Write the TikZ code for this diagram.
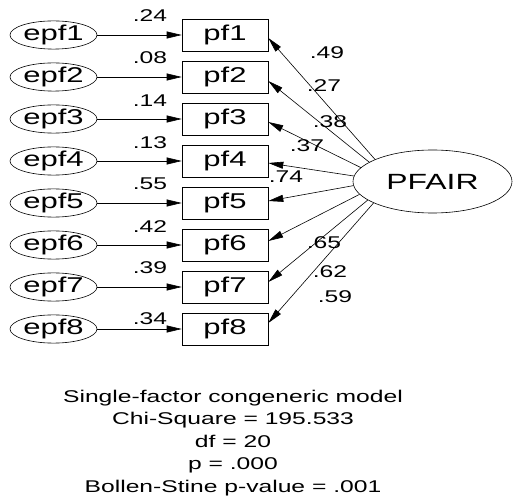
\documentclass[tikz,border=0pt]{standalone}
\usepackage{fontspec}
\setmainfont{Liberation Sans}
\newfontfamily\amos[FakeStretch=1.45]{Liberation Sans}
\usetikzlibrary{arrows.meta,shapes.geometric}
\begin{document}
\begin{tikzpicture}[x=1pt,y=-1pt,
  errvar/.style={draw, ellipse, line width=0.6pt, minimum width=87pt, minimum height=22pt,
    inner sep=0pt, font=\amos\fontsize{21.4}{24}\selectfont},
  obsbox/.style={draw, rectangle, line width=0.6pt, minimum width=86pt, minimum height=32pt,
    inner sep=0pt, font=\amos\fontsize{21.4}{24}\selectfont},
  latent/.style={draw, ellipse, line width=0.6pt, minimum width=159pt, minimum height=63pt,
    inner sep=0pt, font=\amos\fontsize{22}{24}\selectfont},
  regpath/.style={-{Triangle[length=15pt,width=7pt]}, line width=0.6pt},
  coef/.style={inner sep=0pt, font=\amos\fontsize{17}{18}\selectfont},
  fitstat/.style={inner sep=0pt, align=center, font=\amos\fontsize{17}{22.5}\selectfont},
]
\useasboundingbox (0,0) rectangle (514,502);

% latent factor
\node[latent] (F) at (432.5,181.5) {PFAIR};

% error terms and observed indicators
\node[errvar] (e1) at (53.5,35)  {epf1};
\node[errvar] (e2) at (53.5,77)  {epf2};
\node[errvar] (e3) at (53.5,119) {epf3};
\node[errvar] (e4) at (53.5,161) {epf4};
\node[errvar] (e5) at (53.5,203) {epf5};
\node[errvar] (e6) at (53.5,245) {epf6};
\node[errvar] (e7) at (53.5,287) {epf7};
\node[errvar] (e8) at (53.5,329) {epf8};

\node[obsbox] (p1) at (225,35)  {pf1};
\node[obsbox] (p2) at (225,77)  {pf2};
\node[obsbox] (p3) at (225,119) {pf3};
\node[obsbox] (p4) at (225,161) {pf4};
\node[obsbox] (p5) at (225,203) {pf5};
\node[obsbox] (p6) at (225,245) {pf6};
\node[obsbox] (p7) at (225,287) {pf7};
\node[obsbox] (p8) at (225,329) {pf8};

% error paths
\foreach \i in {1,...,8} \draw[regpath] (e\i) -- (p\i);

% squared multiple correlations
\node[coef] (r1) at (150,16)  {.24};
\node[coef] (r2) at (150,58)  {.08};
\node[coef] (r3) at (150,101) {.14};
\node[coef] (r4) at (150,143) {.13};
\node[coef] (r5) at (150,184) {.55};
\node[coef] (r6) at (150,227) {.42};
\node[coef] (r7) at (150,268) {.39};
\node[coef] (r8) at (150,319) {.34};

% factor loadings
\draw[regpath] (F.159.5) -- ([yshift=-3pt]p1.east);
\draw[regpath] (F.163.5) -- ([yshift=-4pt]p2.east);
\draw[regpath] (F.169.7) -- ([yshift=-3pt]p3.east);
\draw[regpath] (F.176.7) -- ([yshift=-2pt]p4.east);
\draw[regpath] (F.183.3) -- ([yshift=2pt]p5.east);
\draw[regpath] (F.190.3) -- ([yshift=4pt]p6.east);
\draw[regpath] (F.196.5) -- ([yshift=5pt]p7.east);
\draw[regpath] (F.200.5) -- ([yshift=6pt]p8.east);

\node[coef] (l1) at (327,53)  {.49};
\node[coef] (l2) at (324,86)  {.27};
\node[coef] (l3) at (330,122) {.38};
\node[coef] (l4) at (307,146) {.37};
\node[coef] (l5) at (286,177) {.74};
\node[coef] (l6) at (324,243) {.65};
\node[coef] (l7) at (330,272) {.62};
\node[coef] (l8) at (335,297) {.59};

% model fit summary
\node[fitstat] (fit) at (233,443) {Single-factor congeneric model\\Chi-Square = 195.533\\df = 20\\p = .000\\Bollen-Stine p-value = .001};
\end{tikzpicture}
\end{document}
